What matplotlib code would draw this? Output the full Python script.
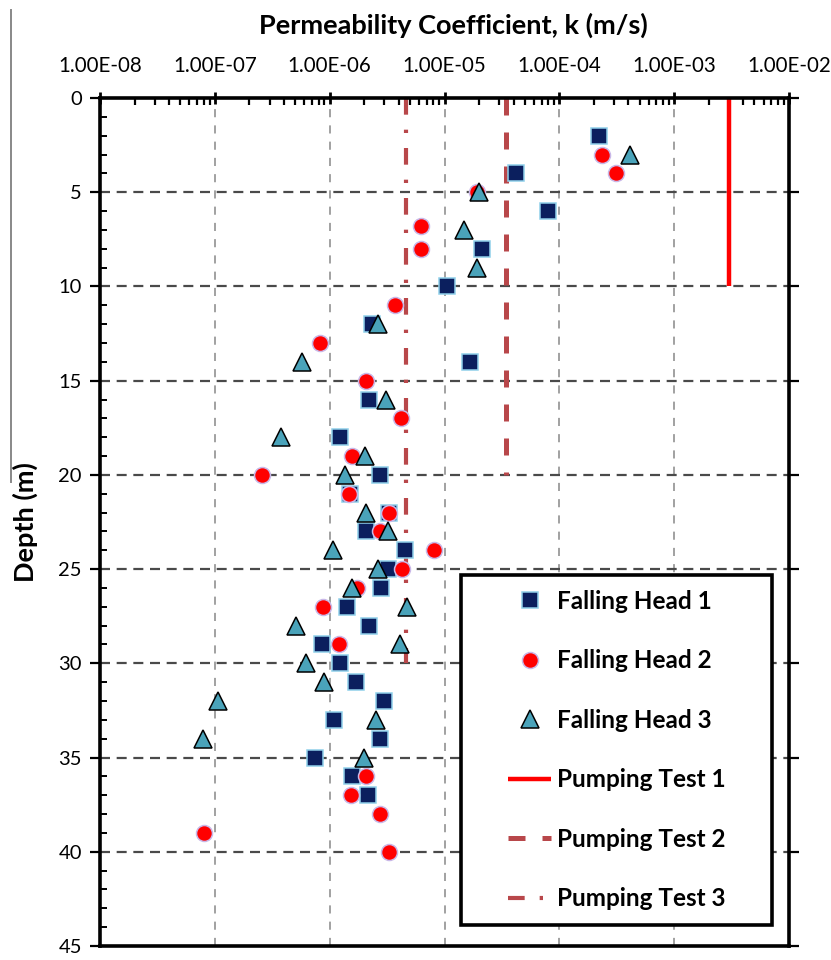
import matplotlib
matplotlib.use("Agg")
import matplotlib.pyplot as plt
from matplotlib.lines import Line2D
from matplotlib.patches import Rectangle
from matplotlib.ticker import LogLocator, NullFormatter, MultipleLocator

plt.rcParams['font.family'] = ['Lato', 'DejaVu Sans']

# ---------------- data ----------------
fh1_k = [2.2e-4, 4.2e-5, 8.0e-5, 2.1e-5, 1.05e-5, 2.33e-6, 1.66e-5, 2.18e-6, 1.24e-6,
         2.72e-6, 1.5e-6, 3.26e-6, 2.08e-6, 4.56e-6, 3.2e-6, 2.8e-6, 1.41e-6, 2.18e-6,
         8.65e-7, 1.22e-6, 1.69e-6, 2.95e-6, 1.1e-6, 2.72e-6, 7.5e-7, 1.58e-6, 2.14e-6]
fh1_d = [2, 4, 6, 8, 10, 12, 14, 16, 18,
         20, 21, 22, 23, 24, 25, 26, 27, 28,
         29, 30, 31, 32, 33, 34, 35, 36, 37]

fh2_k = [2.33e-4, 3.1e-4, 1.92e-5, 6.3e-6, 6.3e-6, 3.7e-6, 8.3e-7, 2.08e-6, 4.2e-6,
         1.56e-6, 2.57e-7, 1.46e-6, 3.3e-6, 2.72e-6, 8.05e-6, 4.3e-6, 1.73e-6, 8.7e-7,
         1.21e-6, 2.07e-6, 1.53e-6, 2.72e-6, 8.1e-8, 3.27e-6]
fh2_d = [3, 4, 5, 6.8, 8, 11, 13, 15, 17,
         19, 20, 21, 22, 23, 24, 25, 26, 27,
         29, 36, 37, 38, 39, 40]

fh3_k = [4.1e-4, 2.0e-5, 1.49e-5, 1.92e-5, 2.63e-6, 5.7e-7, 3.1e-6, 3.8e-7, 2.04e-6,
         1.35e-6, 2.08e-6, 3.2e-6, 1.07e-6, 2.63e-6, 1.56e-6, 4.7e-6, 5.07e-7, 4.12e-6,
         6.2e-7, 8.85e-7, 1.06e-7, 2.55e-6, 7.95e-8, 1.98e-6]
fh3_d = [3, 5, 7, 9, 12, 14, 16, 18, 19,
         20, 22, 23, 24, 25, 26, 27, 28, 29,
         30, 31, 32, 33, 34, 35]

pt1_k, pt1_d = [3.0e-3, 3.0e-3], [0, 10]
pt2_k, pt2_d = [3.4e-5, 3.4e-5], [0, 20]
pt3_k, pt3_d = [4.66e-6, 4.66e-6], [0, 30]

x_ticks = [1e-8, 1e-7, 1e-6, 1e-5, 1e-4, 1e-3, 1e-2]
x_labels = ["1.00E-08", "1.00E-07", "1.00E-06", "1.00E-05", "1.00E-04", "1.00E-03", "1.00E-02"]
y_ticks = [0, 5, 10, 15, 20, 25, 30, 35, 40, 45]

# ---------------- figure ----------------
W, H = 831, 960
fig = plt.figure(figsize=(W / 100, H / 100), dpi=100)
L, R, T, B = 100, 789, 98, 946
ax = fig.add_axes([L / W, 1 - B / H, (R - L) / W, (B - T) / H])

ax.set_xscale('log')
ax.set_xlim(1e-8, 1e-2)
ax.set_ylim(45, 0)

# grid
for xv in x_ticks[1:-1]:
    ax.axvline(xv, color='#9a9a9a', lw=1.3, ls=(0, (4.5, 4.5)), zorder=1)
for yv in y_ticks[1:-1]:
    ax.axhline(yv, color='#4a4a4a', lw=1.6, ls=(0, (4.5, 3)), zorder=1)

# pumping tests
ax.plot(pt1_k, pt1_d, color='#ff0000', lw=3.2, solid_capstyle='butt', zorder=2,
        label='Pumping Test 1')
ax.plot(pt2_k, pt2_d, color='#b8474a', lw=3.6, dashes=(3.4, 3.4), zorder=2,
        label='Pumping Test 2')
ax.plot(pt3_k, pt3_d, color='#b8474a', lw=3.0, dashes=(4.0, 3.6, 0.8, 3.6), zorder=2,
        label='Pumping Test 3')

# falling head tests
ax.plot(fh1_k, fh1_d, ls='none', marker='s', ms=11.5, mfc='#0b1f5e', mec='#8fd0ea',
        mew=1.1, zorder=3, label='Falling Head 1')
ax.plot(fh2_k, fh2_d, ls='none', marker='o', ms=11.5, mfc='#ff0000', mec='#c9b8e8',
        mew=1.1, zorder=4, label='Falling Head 2')
ax.plot(fh3_k, fh3_d, ls='none', marker='^', ms=13.5, mfc='#4aa3ba', mec='#000000',
        mew=1.1, zorder=5, label='Falling Head 3')

# axes styling
for s in ax.spines.values():
    s.set_linewidth(2.6)
    s.set_color('black')
ax.xaxis.set_ticks_position('top')
ax.xaxis.set_label_position('top')
ax.set_xticks(x_ticks)
ax.set_xticklabels(x_labels)
ax.xaxis.set_minor_locator(LogLocator(base=10, subs=range(2, 10), numticks=20))
ax.xaxis.set_minor_formatter(NullFormatter())
ax.tick_params(axis='x', which='major', direction='inout', length=9, width=2,
               pad=11, labelsize=14.8)
ax.tick_params(axis='x', which='minor', direction='in', length=5, width=1.6)
ax.set_yticks(y_ticks)
ax.yaxis.set_minor_locator(MultipleLocator(1))
ax.tick_params(axis='y', which='major', direction='out', length=7, width=1.6,
               pad=6, labelsize=14.5, right=True)
ax.tick_params(axis='y', which='minor', direction='in', length=5, width=1.4)

fig.text(453 / W, 1 - 25 / H, 'Permeability Coefficient, k (m/s)', ha='center',
         va='center', fontsize=19.5, fontweight='bold')
fig.text(25 / W, 1 - 522 / H, 'Depth (m)', ha='center', va='center', rotation=90,
         fontsize=19.5, fontweight='bold')

# stray border line at left edge of reference image
fig.add_artist(Line2D([11 / W, 11 / W], [1 - 10 / H, 1 - 482 / H], color='#888888', lw=1.4))

# legend
lx0, lx1, ly0, ly1 = 461, 772, 575, 925
rect = Rectangle((lx0 / W, 1 - ly1 / H), (lx1 - lx0) / W, (ly1 - ly0) / H,
                 transform=fig.transFigure, facecolor='white', edgecolor='black',
                 lw=2.6, zorder=6, clip_on=False)
ax.add_patch(rect)
handles, labels = ax.get_legend_handles_labels()
order = [3, 4, 5, 0, 1, 2]
leg = ax.legend([handles[i] for i in order], [labels[i] for i in order],
                loc='center', bbox_to_anchor=((lx0 + lx1) / 2 / W, 1 - (ly0 + ly1) / 2 / H),
                bbox_transform=fig.transFigure, frameon=False,
                prop={'size': 17.5, 'weight': 'bold'}, labelspacing=1.5,
                handlelength=1.8, handletextpad=0.22)
leg.set_zorder(7)

fig.savefig('out.png', dpi=100)
